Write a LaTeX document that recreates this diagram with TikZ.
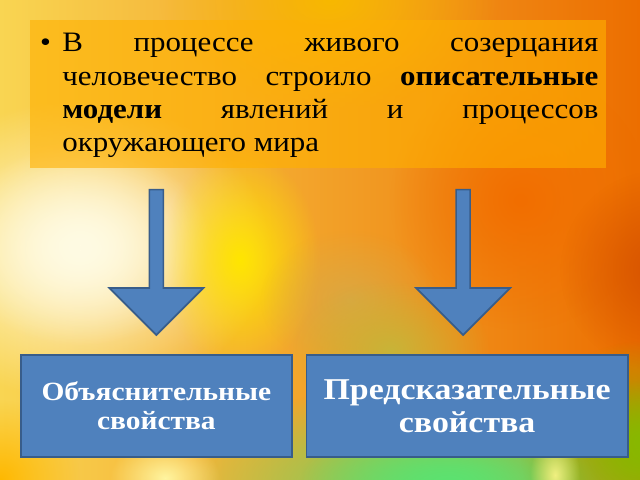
\documentclass[tikz,border=0pt]{standalone}
\usepackage{fontspec}
\setmainfont[FakeStretch=1.1]{Liberation Serif}
\newfontfamily\boxfont[FakeStretch=1.12]{Liberation Serif}
\usetikzlibrary{positioning,calc,fadings}

\definecolor{boxblue}{HTML}{4F81BD}
\definecolor{boxline}{HTML}{385D8A}
\definecolor{panelorange}{HTML}{FFB000}
% background tones
\definecolor{bgleft}{RGB}{249,213,82}
\definecolor{bgmid}{RGB}{245,168,0}
\definecolor{bgright}{RGB}{236,110,0}
\definecolor{toporange}{RGB}{248,184,0}
\definecolor{hotorange}{RGB}{242,110,0}
\definecolor{darkorange}{RGB}{214,82,0}
\definecolor{cream}{RGB}{255,251,227}
\definecolor{lemon}{RGB}{255,230,0}
\definecolor{dullorange}{RGB}{214,170,72}
\definecolor{olive}{RGB}{200,180,56}
\definecolor{meadow}{RGB}{92,226,112}
\definecolor{moss}{RGB}{136,184,0}
\definecolor{paleyellow}{RGB}{255,245,160}
\definecolor{palelime}{RGB}{240,240,128}
\definecolor{amber}{RGB}{255,184,0}

\tikzfading[name=softglow, inner color=transparent!0, outer color=transparent!100]

\tikzset{
  haze/.style={fill=#1, path fading=softglow},
  panel/.style={fill=panelorange, fill opacity=0.6, inner sep=0},
  bluebox/.style={draw=boxline, line width=1.2pt, fill=boxblue, text=white, align=center},
  bluearrow/.style={draw=boxline, line width=1.2pt, fill=boxblue, line join=miter},
}

\begin{document}
\begin{tikzpicture}[x=0.025cm, y=-0.025cm]
\useasboundingbox (0,0) rectangle (640,480);

% Background
\shade[left color=bgleft, middle color=bgmid, right color=bgright] (0,0) rectangle (640,480);
\begin{scope}
\clip (0,0) rectangle (640,480);
\fill[haze=toporange] (330,0) ellipse [x radius=170, y radius=110];
\fill[haze=hotorange] (520,200) circle (130);
\fill[haze=darkorange] (660,270) circle (100);
\fill[haze=cream] (80,250) ellipse [x radius=190, y radius=150];
\fill[haze=cream] (80,245) ellipse [x radius=130, y radius=100];
\fill[haze=lemon] (240,260) ellipse [x radius=80, y radius=110];
\fill[haze=dullorange, fill opacity=0.8] (350,300) ellipse [x radius=90, y radius=70];
\fill[haze=olive] (390,350) ellipse [x radius=100, y radius=70];
\fill[haze=meadow] (440,490) ellipse [x radius=260, y radius=110];
\fill[haze=meadow] (450,480) ellipse [x radius=150, y radius=60];
\fill[haze=moss] (650,450) ellipse [x radius=130, y radius=110];
\fill[haze=moss] (640,440) circle (60);
\fill[haze=paleyellow] (165,478) ellipse [x radius=55, y radius=40];
\fill[haze=palelime] (555,475) ellipse [x radius=25, y radius=40];
\fill[haze=amber] (0,480) circle (80);
\end{scope}

% Text panel
\node[panel, anchor=north west, minimum width=14.4cm, minimum height=3.7cm] (board) at (30,20) {};
\node[anchor=north west, inner sep=0, text width=13.4cm, align=justify, font=\fontsize{20}{23.7}\selectfont] (intro) at (62,33)
  {\llap{\textbullet\hspace{8pt}}В процессе живого созерцания\linebreak
   человечество строило \textbf{описательные}\linebreak
   \textbf{модели} явлений и процессов\linebreak
   окружающего мира};

% Property boxes
\node[bluebox, anchor=north west, minimum width=6.775cm, minimum height=2.55cm, font=\boxfont\bfseries\fontsize{18.7}{20.6}\selectfont] (expl) at (20,354) {Объяснительные\\свойства};
\node[bluebox, right=0.325cm of expl, minimum width=8.025cm, minimum height=2.55cm, font=\boxfont\bfseries\fontsize{21.5}{23.5}\selectfont] (pred) {Предсказательные\\свойства};

% Arrows
\path (board.south -| expl.north) ++(0,21) coordinate (ltop);
\path (expl.north) ++(0,-19) coordinate (ltip);
\path (board.south -| pred.north) ++(-4,21) coordinate (rtop);
\path (pred.north) ++(-4,-19) coordinate (rtip);
\draw[bluearrow] ($(ltop)+(-7,0)$) -- ($(ltop)+(7,0)$) -- ($(ltip)+(7,-47)$) -- ($(ltip)+(47,-47)$) -- (ltip)
  -- ($(ltip)+(-47,-47)$) -- ($(ltip)+(-7,-47)$) -- cycle;
\draw[bluearrow] ($(rtop)+(-7,0)$) -- ($(rtop)+(7,0)$) -- ($(rtip)+(7,-47)$) -- ($(rtip)+(47,-47)$) -- (rtip)
  -- ($(rtip)+(-47,-47)$) -- ($(rtip)+(-7,-47)$) -- cycle;
\end{tikzpicture}
\end{document}
